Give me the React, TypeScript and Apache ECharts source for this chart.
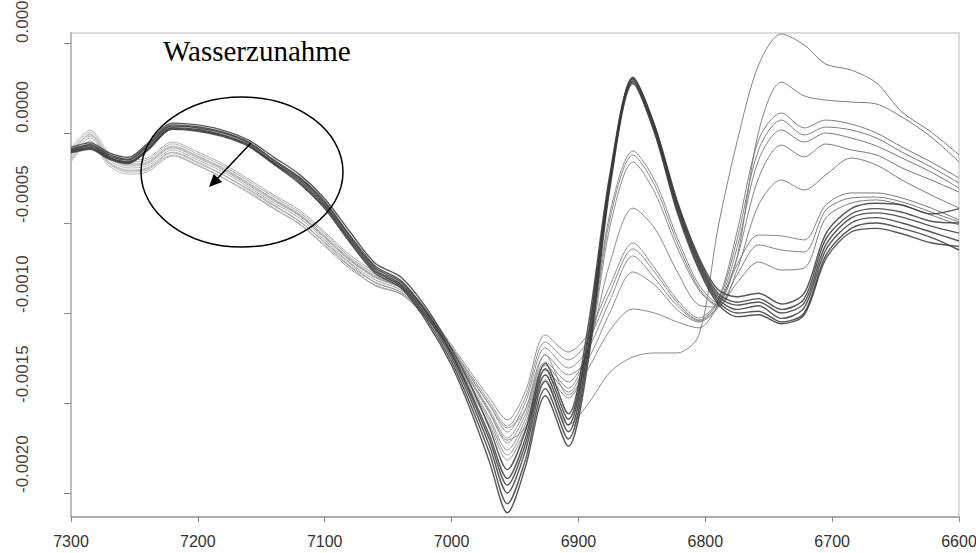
import React, { useEffect, useRef } from "react";
import * as echarts from "echarts";

// Wavenumber grid (cm^-1), axis runs 7300 -> 6600
const wavenumbers = [
  7300, 7285, 7270, 7255, 7240, 7220, 7200, 7180, 7160, 7140,
  7120, 7100, 7080, 7060, 7040, 7020, 7000, 6985, 6970, 6956,
  6942, 6926, 6908, 6893, 6875, 6857, 6840, 6822, 6805, 6790,
  6775, 6758, 6740, 6722, 6705, 6685, 6665, 6645, 6622, 6600,
];

// Values below are in units of 1e-4 (second-derivative absorbance)
const UNIT = 1e-4;

// Dark band (low water content)
const dark0 = [-0.94, -0.72, -1.28, -1.5, -0.78, 0.39, 0.28, 0.0, -0.56, -1.56, -2.5, -3.89, -5.78, -7.5, -8.28, -10.0, -12.33, -14.56, -17.06, -19.56, -17.33, -13.44, -16.22, -11.78, -2.5, 3.0, 0.33, -4.0, -7.17, -9.06, -9.56, -9.39, -10.0, -9.44, -6.22, -4.72, -4.44, -4.67, -5.17, -5.56];
const dark1 = [-0.8, -0.55, -1.1, -1.35, -0.6, 0.55, 0.45, 0.15, -0.4, -1.35, -2.3, -3.65, -5.5, -7.25, -8.0, -9.7, -12.0, -14.0, -16.4, -18.7, -16.6, -12.8, -15.6, -11.0, -2.2, 3.1, 0.45, -3.8, -6.9, -8.7, -9.1, -8.9, -9.5, -8.9, -5.6, -4.2, -3.9, -4.0, -4.5, -4.2];
const dark2 = [-1.0, -0.8, -1.35, -1.6, -0.9, 0.3, 0.2, -0.1, -0.65, -1.65, -2.6, -4.0, -5.9, -7.6, -8.4, -10.15, -12.5, -14.8, -17.4, -20.0, -17.7, -13.8, -16.6, -12.2, -2.7, 2.9, 0.2, -4.15, -7.3, -9.2, -9.8, -9.6, -10.3, -9.7, -6.5, -5.0, -4.7, -5.0, -5.5, -6.0];
const dark3 = [-0.9, -0.65, -1.2, -1.45, -0.7, 0.45, 0.35, 0.05, -0.5, -1.5, -2.45, -3.8, -5.7, -7.4, -8.2, -9.9, -12.2, -14.4, -16.8, -19.2, -17.0, -13.1, -15.9, -11.5, -2.4, 3.05, 0.4, -3.9, -7.05, -8.9, -9.4, -9.2, -9.8, -9.2, -5.9, -4.5, -4.2, -4.4, -4.9, -5.0];
const dark4 = [-1.05, -0.85, -1.4, -1.65, -0.95, 0.25, 0.15, -0.15, -0.7, -1.7, -2.7, -4.1, -6.0, -7.7, -8.5, -10.3, -12.7, -15.1, -17.8, -20.6, -18.2, -14.2, -17.0, -12.6, -2.8, 2.85, 0.1, -4.3, -7.45, -9.35, -10.0, -9.9, -10.5, -10.0, -6.8, -5.3, -5.0, -5.3, -5.8, -6.5];
const dark5 = [-1.1, -0.9, -1.45, -1.7, -1.0, 0.2, 0.1, -0.2, -0.75, -1.75, -2.8, -4.2, -6.1, -7.8, -8.6, -10.45, -12.9, -15.4, -18.3, -21.1, -18.6, -14.6, -17.4, -13.0, -3.0, 2.75, 0.0, -4.45, -7.6, -9.5, -10.2, -10.1, -10.6, -10.1, -7.0, -5.5, -5.3, -5.6, -6.1, -6.3];

// Lighter curves (increasing water content)
const mid1 = [-1.1, -0.1, -1.33, -1.78, -1.67, -0.78, -1.33, -2.0, -2.83, -3.72, -4.55, -5.78, -7.05, -8.0, -8.6, -9.95, -12.17, -14.0, -15.83, -17.61, -15.94, -12.89, -14.17, -12.06, -4.39, -1.0, -2.61, -5.83, -8.44, -9.44, -7.33, -5.67, -5.72, -5.94, -4.0, -3.33, -3.33, -3.61, -4.17, -4.83];
const mid2 = [-1.6, -0.6, -1.83, -2.28, -2.17, -1.28, -1.83, -2.5, -3.33, -4.22, -5.05, -6.28, -7.55, -8.45, -8.95, -10.2, -12.22, -14.11, -16.0, -17.89, -16.22, -13.17, -14.39, -12.33, -4.72, -1.22, -2.89, -6.11, -8.61, -9.56, -7.89, -6.22, -6.5, -6.61, -4.28, -3.61, -3.56, -3.83, -4.39, -4.94];
const mid3 = [-0.84, 0.16, -1.06, -1.5, -1.4, -0.5, -1.06, -1.72, -2.56, -3.45, -4.28, -5.5, -6.78, -7.73, -8.4, -9.8, -12.33, -14.28, -16.22, -18.17, -16.5, -13.44, -14.72, -12.61, -5.17, -1.61, -3.28, -6.39, -8.72, -9.61, -8.33, -7.17, -7.61, -7.5, -4.72, -3.89, -3.72, -4.0, -4.56, -5.11];
const wet4 = [-1.45, -0.45, -1.67, -2.1, -2.0, -1.1, -1.67, -2.33, -3.17, -4.05, -4.9, -6.1, -7.4, -8.3, -8.85, -10.15, -12.06, -13.83, -15.56, -17.22, -15.67, -12.72, -13.83, -12.17, -7.17, -4.17, -5.28, -7.72, -9.56, -9.67, -7.61, -4.0, -2.61, -3.17, -2.33, -1.39, -1.78, -2.61, -3.44, -4.17];
const wet3a = [-0.95, 0.05, -1.17, -1.6, -1.5, -0.6, -1.17, -1.83, -2.67, -3.55, -4.4, -5.6, -6.9, -7.85, -8.45, -9.85, -11.78, -13.28, -14.72, -15.94, -14.39, -11.22, -12.17, -11.22, -8.44, -6.11, -7.5, -9.28, -10.28, -9.28, -5.5, -0.39, 1.11, 0.28, 0.72, 0.5, 0.0, -0.78, -1.61, -2.5];
const wet3b = [-1.06, -0.06, -1.28, -1.72, -1.6, -0.72, -1.28, -1.95, -2.78, -3.67, -4.5, -5.72, -7.0, -7.95, -8.55, -9.9, -11.89, -13.44, -14.94, -16.28, -14.72, -11.61, -12.61, -11.61, -8.83, -6.44, -7.72, -9.44, -10.39, -9.39, -5.94, -0.94, 0.72, -0.11, 0.33, 0.17, -0.28, -1.06, -1.89, -2.78];
const wet3c = [-1.17, -0.17, -1.4, -1.83, -1.72, -0.83, -1.39, -2.06, -2.9, -3.78, -4.6, -5.83, -7.1, -8.05, -8.62, -9.95, -11.94, -13.56, -15.11, -16.61, -15.0, -11.94, -13.06, -12.06, -9.28, -6.83, -8.06, -9.61, -10.44, -9.56, -6.39, -1.5, 0.17, -0.5, 0.0, -0.28, -0.72, -1.39, -2.17, -3.06];
const wet3d = [-1.28, -0.28, -1.5, -1.94, -1.83, -0.94, -1.5, -2.17, -3.0, -3.89, -4.72, -5.94, -7.22, -8.17, -8.72, -10.06, -12.06, -13.72, -15.39, -16.94, -15.39, -12.33, -13.44, -12.61, -9.94, -7.72, -8.44, -9.83, -10.5, -9.67, -6.94, -2.5, -0.67, -1.33, -0.61, -0.94, -1.22, -1.94, -2.61, -3.28];
const wet2 = [-1.39, -0.44, -1.61, -2.06, -1.94, -1.06, -1.61, -2.33, -3.11, -4.0, -4.89, -6.06, -7.28, -8.33, -8.83, -10.17, -11.89, -13.56, -15.11, -16.39, -15.39, -12.33, -14.56, -13.17, -10.94, -9.78, -10.0, -10.5, -10.83, -9.56, -6.94, 0.06, 2.83, 2.06, 1.83, 1.72, 1.61, 0.89, -0.22, -1.61];
const wet1 = [-1.5, -0.56, -1.72, -2.17, -2.06, -1.22, -1.78, -2.5, -3.28, -4.17, -5.06, -6.22, -7.44, -8.5, -8.94, -10.28, -12.06, -13.72, -15.5, -17.06, -16.39, -13.72, -16.22, -15.11, -13.28, -12.44, -12.22, -12.22, -11.22, -5.28, -0.5, 3.78, 5.5, 4.89, 3.83, 3.5, 2.78, 1.17, 0.06, -1.22];

const darkRows = [dark0, dark1, dark2, dark3, dark4, dark5];
const lightRows = [mid1, mid2, mid3, wet4, wet3a, wet3b, wet3c, wet3d, wet2, wet1];

const xTicks = [7300, 7200, 7100, 7000, 6900, 6800, 6700, 6600];
const yTicks = [-0.002, -0.0015, -0.001, -0.0005, 0, 0.0005];
const annotation = "Wasserzunahme";

const toData = (row: number[]) => wavenumbers.map((w, i) => [w, row[i] * UNIT]);

export default function App() {
  const ref = useRef<HTMLDivElement>(null);
  useEffect(() => {
    if (!ref.current) return;
    const chart = echarts.init(ref.current, null, { renderer: "svg" });
    const lightGrad = {
      type: "linear", x: 0, y: 0, x2: 1, y2: 0,
      colorStops: [
        { offset: 0, color: "#b8b8b8" },
        { offset: 0.45, color: "#8c8c8c" },
        { offset: 1, color: "#666666" },
      ],
    };
    const series: any[] = [];
    lightRows.forEach((row, i) =>
      series.push({
        type: "line", name: "w" + i, data: toData(row), showSymbol: false,
        smooth: 0.3, silent: true,
        lineStyle: { color: lightGrad, width: 1, opacity: 0.9 },
      })
    );
    darkRows.forEach((row, i) =>
      series.push({
        type: "line", name: "d" + i, data: toData(row), showSymbol: false,
        smooth: 0.3, silent: true,
        lineStyle: { color: "#3a3a3a", width: 1.4, opacity: 0.85 },
      })
    );
    chart.setOption({
      animation: false,
      grid: {
        left: 71, right: 17, top: 33, bottom: 36, show: true, borderColor: "#cfcfcf", borderWidth: 1.5,
        containLabel: false, outerBoundsMode: "none",
      },
      xAxis: {
        type: "value", inverse: true, min: 6600, max: 7300, interval: 100,
        axisLine: { show: true, onZero: false, lineStyle: { color: "#9a9a9a", width: 1.5 } },
        axisTick: { show: true, length: 5, lineStyle: { color: "#888" } },
        axisLabel: { fontSize: 16, color: "#333", margin: 16, fontFamily: "Liberation Sans",
          formatter: (v: number) => (xTicks.includes(v) ? String(v) : "") },
        splitLine: { show: false },
      },
      yAxis: {
        type: "value", min: -0.00213333, max: 0.00055556,
        axisLine: { show: true, onZero: false, lineStyle: { color: "#bdbdbd", width: 2 } },
        axisTick: { show: true, length: 7, customValues: yTicks, lineStyle: { color: "#888" } },
        axisLabel: {
          customValues: yTicks, rotate: 90, align: "left", verticalAlign: "bottom", margin: 40,
          fontSize: 17, color: "#444", fontFamily: "Liberation Sans",
          formatter: (v: number) => v.toFixed(4),
        },
        splitLine: { show: false },
      },
      graphic: [
        { type: "ellipse", shape: { cx: 242, cy: 172, rx: 101, ry: 75 }, style: { fill: "none", stroke: "#000", lineWidth: 1.5 }, z: 100 },
        { type: "line", shape: { x1: 251, y1: 143, x2: 216, y2: 180 }, style: { stroke: "#000", lineWidth: 1.5 }, z: 100 },
        { type: "polygon", shape: { points: [[209, 187], [222.3, 182.1], [213.7, 173.9]] }, style: { fill: "#000" }, z: 100 },
        { type: "text", x: 163, y: 51, style: { text: annotation, fontSize: 29, fontFamily: "Liberation Serif", fill: "#000", align: "left", verticalAlign: "middle" }, z: 100 },
      ],
      series,
    });
    return () => chart.dispose();
  }, []);
  return <div ref={ref} style={{ position: "fixed", left: 0, top: 0, width: 976, height: 553, background: "#fff" }} />;
}
